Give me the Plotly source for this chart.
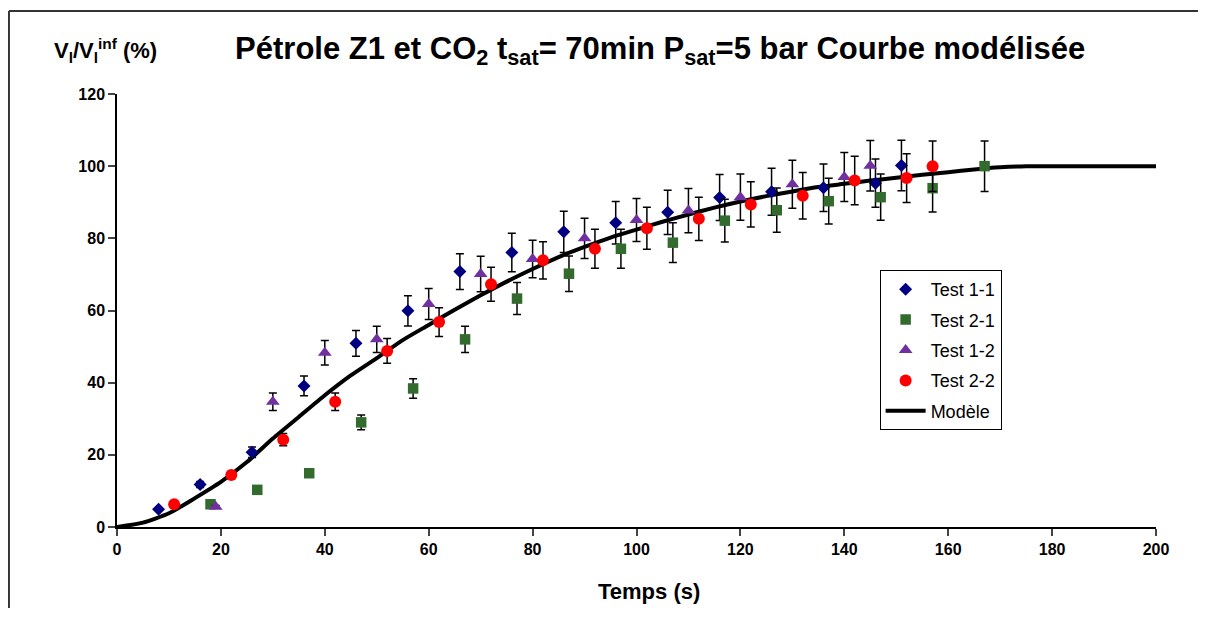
import plotly.graph_objects as go

# Test 1-1
t11_x = [8, 16, 26, 36, 46, 56, 66, 76, 86, 96, 106, 116, 126, 136, 146, 151]
t11_y = [4.9, 11.8, 20.7, 39.1, 50.9, 59.9, 70.8, 76.1, 81.8, 84.3, 87.2, 91.3, 92.9, 94.0, 95.3, 100.2]

# Test 2-1
t21_x = [18, 27, 37, 47, 57, 67, 77, 87, 97, 107, 117, 127, 137, 147, 157, 167]
t21_y = [6.3, 10.3, 14.9, 29.0, 38.4, 52.0, 63.3, 70.2, 77.1, 78.8, 84.9, 87.8, 90.3, 91.4, 93.9, 100.0]

# Test 1-2
t12_x = [19, 30, 40, 50, 60, 70, 80, 90, 100, 110, 120, 130, 140, 145]
t12_y = [5.6, 34.7, 48.3, 52.0, 61.8, 70.1, 74.3, 80.0, 85.1, 87.7, 91.4, 95.0, 97.0, 100.1]

# Test 2-2
t22_x = [11, 22, 32, 42, 52, 62, 72, 82, 92, 102, 112, 122, 132, 142, 152, 157]
t22_y = [6.3, 14.4, 24.2, 34.7, 48.8, 56.8, 67.3, 73.9, 77.1, 82.8, 85.4, 89.4, 91.8, 96.0, 96.7, 100.0]

# Modele
mod_x = [0, 5, 10, 15, 20, 25, 30, 35, 40, 45, 50, 55, 60, 65, 70, 75, 80, 85, 90, 95,
         100, 105, 110, 115, 120, 125, 130, 135, 140, 145, 150, 155, 160, 165, 170, 175, 180, 200]
mod_y = [0, 1.2, 3.8, 8.0, 12.5, 18.0, 24.5, 30.5, 36.5, 42.0, 46.8, 51.8, 56.0, 60.2, 64.2, 68.0,
         71.5, 74.8, 77.6, 80.2, 82.4, 84.6, 86.6, 88.5, 90.2, 91.7, 93.0, 94.2, 95.1, 96.0,
         96.8, 97.6, 98.3, 99.1, 99.7, 100, 100, 100]

x_ticks = [0, 20, 40, 60, 80, 100, 120, 140, 160, 180, 200]
y_ticks = [0, 20, 40, 60, 80, 100, 120]

police = "Liberation Sans, Arial, sans-serif"
barres = dict(type='percent', value=7, color='black', thickness=1.5, width=4)

fig = go.Figure()

fig.add_trace(go.Scatter(
    x=mod_x, y=mod_y, mode='lines', name='Modèle',
    line=dict(color='black', width=4, shape='spline', smoothing=0.6),
    legendrank=5, legendgroup='m'
))

series = [
    ('Test 1-1', t11_x, t11_y, 'diamond', '#000080', 10, 1),
    ('Test 2-1', t21_x, t21_y, 'square', '#336B2E', 10.5, 2),
    ('Test 1-2', t12_x, t12_y, 'triangle-up', '#7030A0', 12, 3),
    ('Test 2-2', t22_x, t22_y, 'circle', '#FF0000', 12, 4),
]
for nom, xs, ys, symb, coul, taille, rang in series:
    fig.add_trace(go.Scatter(
        x=xs, y=ys, mode='markers', name=nom,
        marker=dict(symbol=symb, color=coul, size=taille),
        error_y=barres,
        legendrank=rang, legendgroup=nom
    ))

# la page a une marge de 8 px : figure reduite
fig.update_layout(
    width=1190, height=600,
    margin=dict(l=109, r=42, t=86, b=81),
    paper_bgcolor='white', plot_bgcolor='white',
    font=dict(family=police, color='black', size=16),
    title=dict(
        text="<b>Pétrole Z1 et CO<sub>2</sub> t<sub>sat</sub>= 70min P<sub>sat</sub>=5 bar Courbe modélisée</b>",
        x=0.548, xanchor='center', xref='container',
        y=1 - 40 / 600, yanchor='middle', yref='container',
        font=dict(size=31, family=police)
    ),
    xaxis=dict(
        range=[0, 200], tickvals=x_ticks, ticktext=[f"<b>{v}</b>" for v in x_ticks],
        ticks='outside', ticklen=7, tickwidth=1.5,
        showline=True, linecolor='black', linewidth=1.5, showgrid=False, zeroline=False,
        tickfont=dict(size=16, family=police)
    ),
    yaxis=dict(
        range=[0, 120], tickvals=y_ticks, ticktext=[f"<b>{v}</b>" for v in y_ticks],
        ticks='outside', ticklen=7, tickwidth=1.5,
        showline=True, linecolor='black', linewidth=1.5, showgrid=False, zeroline=False,
        tickfont=dict(size=16, family=police)
    ),
    legend=dict(
        x=0.734, y=0.5935, xanchor='left', yanchor='top',
        bordercolor='black', borderwidth=1, bgcolor='white',
        font=dict(size=18, family=police), tracegroupgap=4, itemwidth=40
    ),
    showlegend=True,
    annotations=[
        dict(text="<b>V<sub>l</sub>/V<sub>l</sub><sup>inf</sup> (%)</b>", xref='paper', yref='paper',
             x=-0.0626, y=1.10, xanchor='left', yanchor='middle', showarrow=False,
             font=dict(size=22, family=police)),
        dict(text="<b>Temps (s)</b>", xref='paper', yref='paper',
             x=0.512, y=-0.150, xanchor='center', yanchor='middle', showarrow=False,
             font=dict(size=22, family=police)),
    ],
    shapes=[
        dict(type='line', xref='paper', yref='paper', x0=-0.104, x1=1.1, y0=1.1917, y1=1.1917,
             line=dict(color='#333333', width=2)),
        dict(type='line', xref='paper', yref='paper', x0=-0.104, x1=-0.104, y0=1.1917, y1=-0.3,
             line=dict(color='#333333', width=2)),
    ]
)

fig.write_html("out.html")
